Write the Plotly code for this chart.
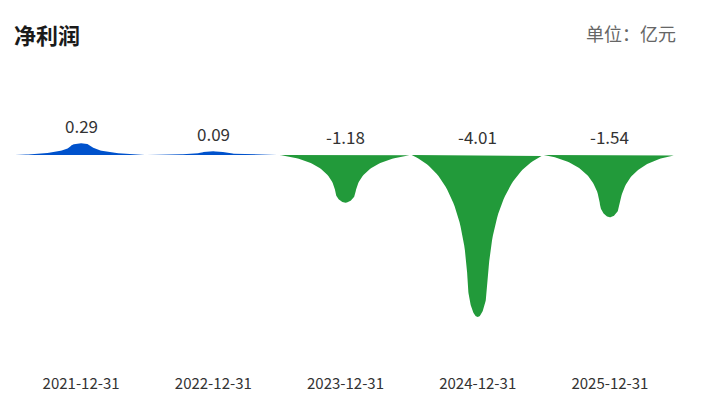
import numpy as np
import plotly.graph_objects as go

# 净利润 (亿元)
dates = ['2021-12-31', '2022-12-31', '2023-12-31', '2024-12-31', '2025-12-31']
values = [0.29, 0.09, -1.18, -4.01, -1.54]
labels = ['0.29', '0.09', '-1.18', '-4.01', '-1.54']

BLUE = '#0052cc'
GREEN = '#229a3a'


def bezier(p0, p1, p2, p3, s):
    s = s[:, None]
    p0, p1, p2, p3 = (np.array(p) for p in (p0, p1, p2, p3))
    return ((1 - s) ** 3) * p0 + 3 * ((1 - s) ** 2) * s * p1 + 3 * (1 - s) * s ** 2 * p2 + s ** 3 * p3


def spike(cx, v, n=40):
    # spike glyph: half-width fraction f vs depth fraction t, stretched to the value
    s = np.linspace(0, 1, n)
    a = bezier((1, 0), (0.55, 0.08), (0.2, 0.3), (0.15, 0.8), s)
    b = bezier((0.15, 0.8), (0.14, 0.9), (0.07, 1.0), (0, 1), s)
    right = np.vstack([a, b[1:]])
    left = right[::-1].copy()
    left[:, 0] *= -1
    pts = np.vstack([left, right[1:]])
    return cx + 0.5 * pts[:, 0], v * pts[:, 1]


fig = go.Figure()

for i, v in enumerate(values):
    xs, ys = spike(i, v)
    color = BLUE if v >= 0 else GREEN
    fig.add_trace(go.Scatter(
        x=xs, y=ys, mode='lines', fill='toself',
        fillcolor=color, line=dict(width=0, color=color),
        hoverinfo='skip', showlegend=False
    ))
    fig.add_annotation(
        x=i, y=max(v, 0), text=labels[i], showarrow=False,
        yanchor='middle', yshift=18,
        font=dict(size=17, color='#333333')
    )

fig.add_annotation(
    xref='paper', yref='paper', x=-0.004, y=1.0, yshift=66,
    text='<b>净利润</b>', showarrow=False, xanchor='left', yanchor='middle',
    font=dict(size=22, color='#1a1a1a')
)
fig.add_annotation(
    xref='paper', yref='paper', x=1.003, y=1.0, yshift=67,
    text='单位：亿元', showarrow=False, xanchor='right', yanchor='middle',
    font=dict(size=18, color='#666666')
)

fig.update_layout(
    width=698, height=394,
    margin=dict(l=7, r=30, t=92, b=42),
    paper_bgcolor='white', plot_bgcolor='white',
    font=dict(family='Noto Sans CJK SC, Open Sans, sans-serif'),
    xaxis=dict(
        range=[-0.5, 4.5], tickvals=list(range(len(dates))), ticktext=dates,
        showgrid=False, zeroline=False, showline=False,
        ticks='outside', ticklen=10, tickcolor='rgba(0,0,0,0)',
        tickfont=dict(size=15, color='#333333'), fixedrange=True
    ),
    yaxis=dict(
        range=[-5.074, 1.361], showgrid=False, zeroline=False,
        showticklabels=False, showline=False, fixedrange=True
    )
)

fig.write_html('out.html')
